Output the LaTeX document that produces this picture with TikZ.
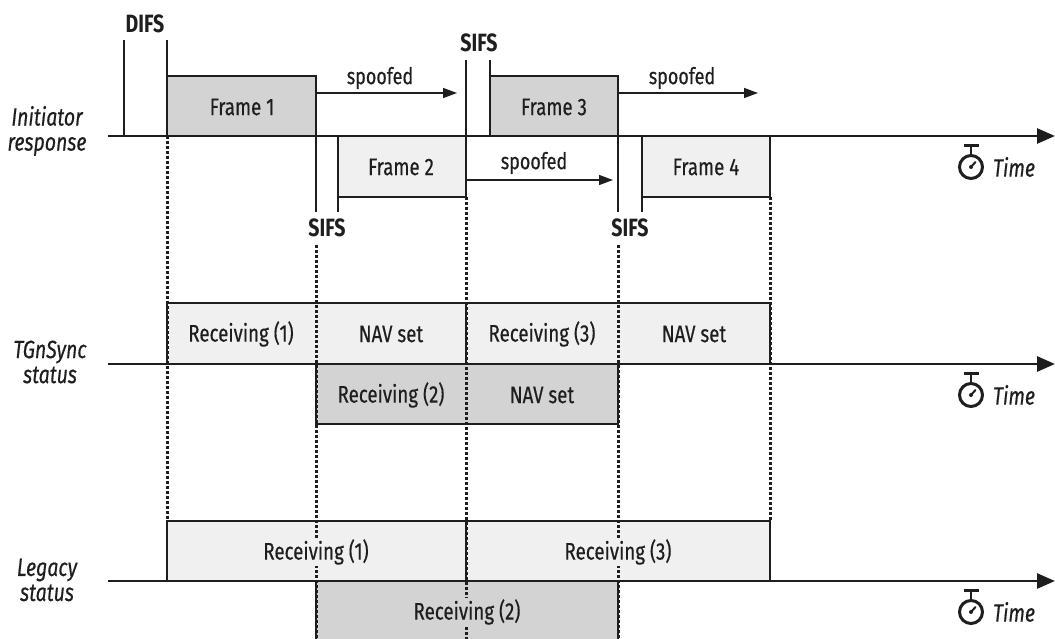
\documentclass[tikz,border=0pt]{standalone}
\usepackage{fontspec}
\setmainfont{Fira Sans}[FakeStretch=0.78, UprightFeatures={FakeBold=0.4}, ItalicFeatures={FakeBold=0.4}]
\usetikzlibrary{arrows.meta}
\definecolor{darkfill}{HTML}{D3D3D3}
\definecolor{lightfill}{HTML}{F0F0F0}
\definecolor{ink}{HTML}{1E1E1E}
\tikzset{
  axisline/.style={draw=ink, line width=2.6pt, -{Triangle[length=18pt,width=15pt]}},
  edgeline/.style={draw=ink, line width=1.4pt},
  dotline/.style={draw=ink, line width=3pt, dash pattern=on 2.6pt off 2.4pt},
  spoofarrow/.style={draw=ink, line width=1.4pt, -{Triangle[length=14pt,width=10pt]}},
  boxtext/.style={font=\fontsize{24}{26}\selectfont, text=ink, inner sep=1pt},
  smalltext/.style={font=\fontsize{23}{24}\selectfont, text=ink, inner sep=1pt},
  gaptext/.style={font=\bfseries\fontsize{25}{26}\selectfont, text=ink, inner sep=1pt},
  rowlabel/.style={font=\itshape\fontsize{25}{25}\selectfont, text=ink, align=center, inner sep=0pt},
  timelabel/.style={font=\itshape\fontsize{25}{26}\selectfont, text=ink, inner sep=0pt},
  stopwatch/.pic={
    \draw[ink, line width=3pt] (0,0) circle[radius=11.5];
    \draw[ink, line width=2.6pt] (0,-11.5) -- (0,-21);
    \draw[ink, line width=2.6pt] (-7.5,-21.5) -- (7.5,-21.5);
    \draw[ink, line width=2pt, line cap=round] (0,0) -- (4.5,-5);
    \fill[ink] (0,0) circle[radius=2];
  }
}
\begin{document}
\begin{tikzpicture}[x=1pt,y=-1pt]
\useasboundingbox (0,0) rectangle (1055,639);
\begin{scope}
\clip (0,0) rectangle (1055,639);
% ---------- fills ----------
\fill[darkfill] (167,76) rectangle (316,136);
\fill[darkfill] (490,76) rectangle (618,136);
\fill[lightfill] (337,136) rectangle (466,197);
\fill[lightfill] (642,136) rectangle (770,197);
\fill[lightfill] (167,303) rectangle (770,364);
\fill[darkfill] (316,364) rectangle (618,424);
\fill[lightfill] (167,521) rectangle (770,581);
\fill[darkfill] (316,581) rectangle (618,645);
% ---------- coordinates ----------
\coordinate (d1t) at (167,136); \coordinate (d1b) at (167,521);
\coordinate (d2t) at (316,245); \coordinate (d2b) at (316,645);
\coordinate (d3t) at (466,197); \coordinate (d3b) at (466,645);
\coordinate (d4t) at (618,245); \coordinate (d4b) at (618,645);
\coordinate (d5t) at (770,197); \coordinate (d5b) at (770,521);
% ---------- dotted guide lines ----------
\draw[dotline] (d1t) -- (d1b);
\draw[dotline] (d2t) -- (d2b);
\draw[dotline] (d3t) -- (d3b);
\draw[dotline] (d4t) -- (d4b);
\draw[dotline] (d5t) -- (d5b);
% ---------- initiator row ----------
\draw[edgeline] (124,40) -- (124,136);
\draw[edgeline] (167,40) -- (167,136);
\draw[edgeline] (167,76) -- (316,76) -- (316,212);
\draw[edgeline] (466,60) -- (466,197);
\draw[edgeline] (490,60) -- (490,136);
\draw[edgeline] (490,76) -- (618,76) -- (618,212);
\draw[edgeline] (338,136) -- (338,212);
\draw[edgeline] (338,197) -- (466,197);
\draw[edgeline] (642,136) -- (642,212);
\draw[edgeline] (642,197) -- (770,197) -- (770,136);
\coordinate (s1a) at (316,93); \coordinate (s1b) at (457,93);
\coordinate (s2a) at (618,93); \coordinate (s2b) at (758,93);
\coordinate (s3a) at (466,180); \coordinate (s3b) at (613,180);
\draw[spoofarrow] (s1a) -- (s1b);
\draw[spoofarrow] (s2a) -- (s2b);
\draw[spoofarrow] (s3a) -- (s3b);
% ---------- TGnSync row ----------
\draw[edgeline] (167,364) -- (167,303) -- (770,303) -- (770,364);
\draw[edgeline] (466,303) -- (466,364);
\draw[edgeline] (316,364) -- (316,424) -- (618,424) -- (618,364);
% ---------- Legacy row ----------
\draw[edgeline] (167,581) -- (167,521) -- (770,521) -- (770,581);
\draw[edgeline] (466,521) -- (466,581);
\draw[edgeline] (316,581) -- (316,645);
\draw[edgeline] (618,581) -- (618,645);
% ---------- axes ----------
\coordinate (a1s) at (108,136); \coordinate (a1e) at (1055,136);
\coordinate (a2s) at (108,364); \coordinate (a2e) at (1055,364);
\coordinate (a3s) at (108,581); \coordinate (a3e) at (1055,581);
\draw[axisline] (a1s) -- (a1e);
\draw[axisline] (a2s) -- (a2e);
\draw[axisline] (a3s) -- (a3e);
\end{scope}
% ---------- texts ----------
\node[gaptext] (difs) at (145,24) {DIFS};
\node[gaptext] (sifst) at (479,43) {SIFS};
\node[gaptext] (sifsl) at (327,228) {SIFS};
\node[gaptext] (sifsr) at (630,228) {SIFS};
\node[smalltext] (sp1) at (380,78) {spoofed};
\node[smalltext] (sp2) at (682,78) {spoofed};
\node[smalltext] (sp3) at (534,163) {spoofed};
\node[boxtext] (f1) at (242,107) {Frame 1};
\node[boxtext] (f2) at (401,167) {Frame 2};
\node[boxtext] (f3) at (554,107) {Frame 3};
\node[boxtext] (f4) at (706,167) {Frame 4};
\node[boxtext, fill=lightfill] (tr1) at (241,334) {Receiving (1)};
\node[boxtext, fill=lightfill] (tn1) at (391,334) {NAV set};
\node[boxtext, fill=lightfill] (tr3) at (542,334) {Receiving (3)};
\node[boxtext, fill=lightfill] (tn2) at (694,334) {NAV set};
\node[boxtext, fill=darkfill] (tr2) at (391,395) {Receiving (2)};
\node[boxtext, fill=darkfill] (tn3) at (542,395) {NAV set};
\node[boxtext, fill=lightfill] (lr1) at (316,552) {Receiving (1)};
\node[boxtext, fill=lightfill] (lr3) at (618,552) {Receiving (3)};
\node[boxtext, fill=darkfill] (lr2) at (467,612) {Receiving (2)};
\node[rowlabel] (ini) at (47,131) {Initiator\\response};
\node[rowlabel] (tgn) at (50,362) {TGnSync\\status};
\node[rowlabel] (leg) at (47,580) {Legacy\\status};
\pic at (971,167) {stopwatch};
\pic at (971,395) {stopwatch};
\pic at (971,612) {stopwatch};
\node[timelabel] (t1) at (1014,167) {Time};
\node[timelabel] (t2) at (1014,395) {Time};
\node[timelabel] (t3) at (1014,612) {Time};
\end{tikzpicture}
\end{document}
